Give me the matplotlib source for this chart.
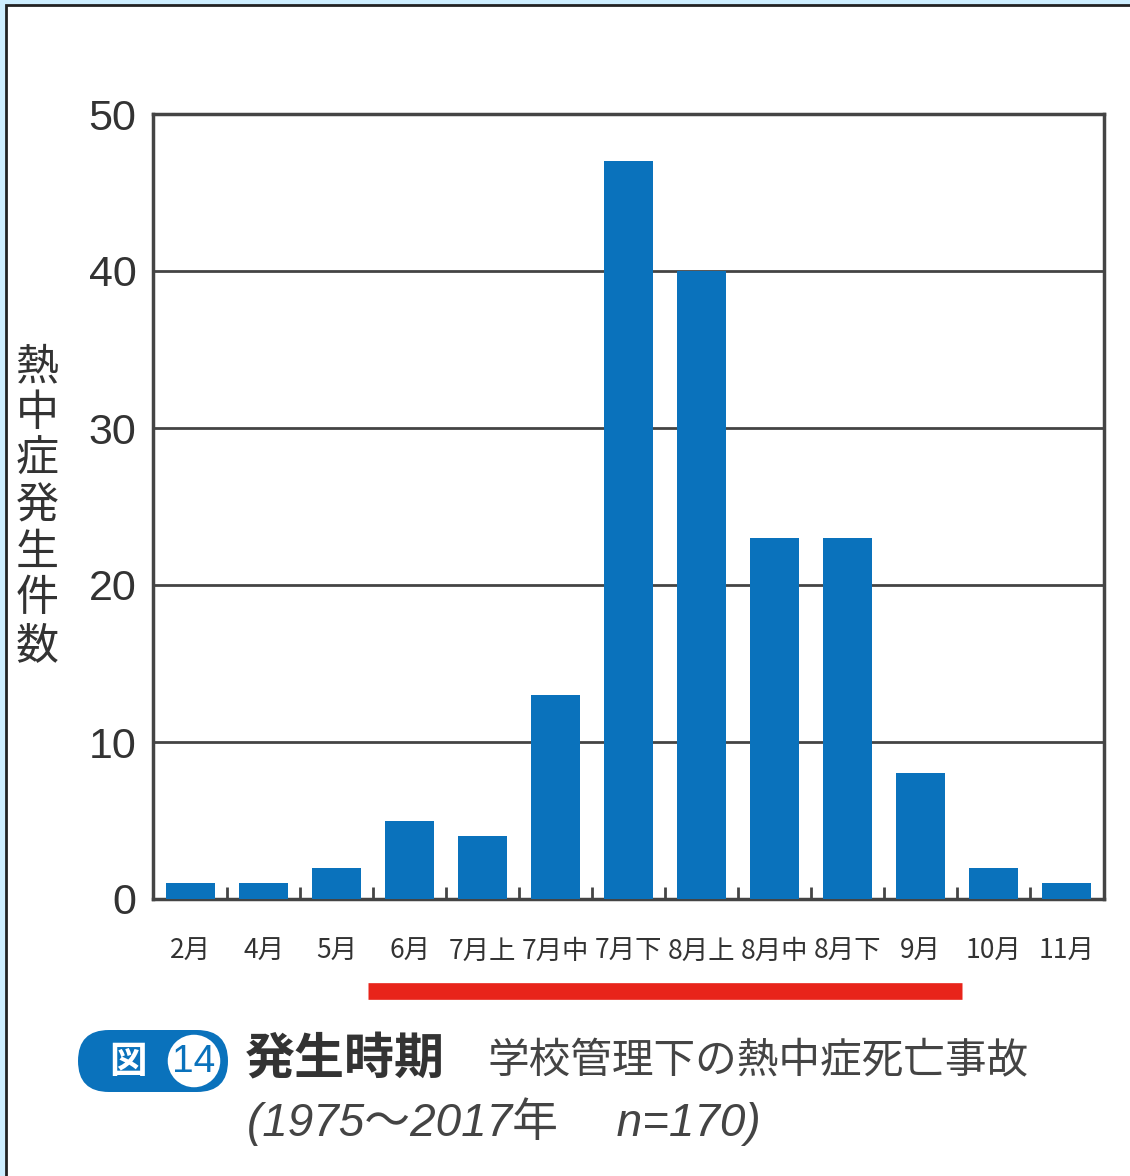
import numpy as np
import matplotlib
matplotlib.use('Agg')
import matplotlib.pyplot as plt
from matplotlib.patches import FancyBboxPatch, Circle, Rectangle

plt.rcParams['font.family'] = ['Noto Sans CJK JP', 'DejaVu Sans']

# 発生時期ごとの件数
periods = ['2月', '4月', '5月', '6月', '7月上', '7月中', '7月下',
           '8月上', '8月中', '8月下', '9月', '10月', '11月']
counts = [1, 1, 2, 5, 4, 13, 47, 40, 23, 23, 8, 2, 1]
yticks = [0, 10, 20, 30, 40, 50]

blue = '#0a72bc'
text_col = '#333333'
W, H = 1130, 1176

fig = plt.figure(figsize=(W / 100, H / 100), dpi=100)
fig.patch.set_facecolor('#cdeeff')

# 背景の白いパネルと枠
bg = fig.add_axes([0, 0, 1, 1])
bg.set_xlim(0, W)
bg.set_ylim(H, 0)
bg.axis('off')
bg.add_patch(Rectangle((6, 5), W, H, facecolor='white', edgecolor='#222222', lw=2))

# グラフ本体
ax = fig.add_axes([153 / W, (H - 899) / H, (1104 - 153) / W, (899 - 114) / H])
x = np.arange(len(periods))
ax.bar(x, counts, width=0.67, color=blue, zorder=3)
ax.set_xlim(-0.52, len(periods) - 0.48)
ax.set_ylim(0, 50)
ax.set_yticks(yticks)
ax.set_yticklabels([str(v) for v in yticks], family=['Liberation Sans'],
                   fontsize=31, color=text_col)
ax.set_xticks(x)
ax.set_xticklabels(periods, fontsize=19, color=text_col)
ax.set_xticks(x[:-1] + 0.5, minor=True)
ax.tick_params(axis='x', which='major', length=0, pad=28)
ax.tick_params(axis='x', which='minor', direction='in', length=9, width=2, color='#444444')
ax.tick_params(axis='y', length=0, pad=12)
ax.grid(axis='y', color='#444444', lw=2, zorder=1)
for s in ax.spines.values():
    s.set_color('#444444')
    s.set_linewidth(2.5)
ax.set_ylabel('\n'.join('熱中症発生件数'), rotation=0, fontsize=31,
              color=text_col, linespacing=1.07, va='center', labelpad=0)
ax.yaxis.set_label_coords(-0.122, 0.50)

# 赤い下線
bg.plot([368, 962], [991, 991], color='#e8241a', lw=12, solid_capstyle='butt')

# 図番号のバッジ
bg.add_patch(FancyBboxPatch((78, 1030), 150, 62,
                            boxstyle='round,pad=0,rounding_size=31',
                            facecolor=blue, edgecolor='none'))
bg.add_patch(Circle((194, 1061), 28, facecolor='white', edgecolor=blue, lw=2.5))
bg.text(128, 1061, '図', color='white', fontsize=27, ha='center', va='center',
        fontweight='bold')
bg.text(194, 1062, '14', color=blue, fontsize=28, ha='center', va='center',
        family=['Liberation Sans'])

bg.text(245, 1060, '発生時期', color=text_col, fontsize=36, fontweight='bold',
        ha='left', va='center')
bg.text(487, 1062, '学校管理下の熱中症死亡事故', color='#444444', fontsize=30,
        ha='left', va='center')
bg.text(247, 1122, '(1975～2017年　 n=170)', color='#444444', fontsize=33,
        ha='left', va='center', style='italic',
        family=['Liberation Sans', 'Noto Sans CJK JP'])

fig.savefig('out.png', dpi=100, facecolor=fig.get_facecolor())
